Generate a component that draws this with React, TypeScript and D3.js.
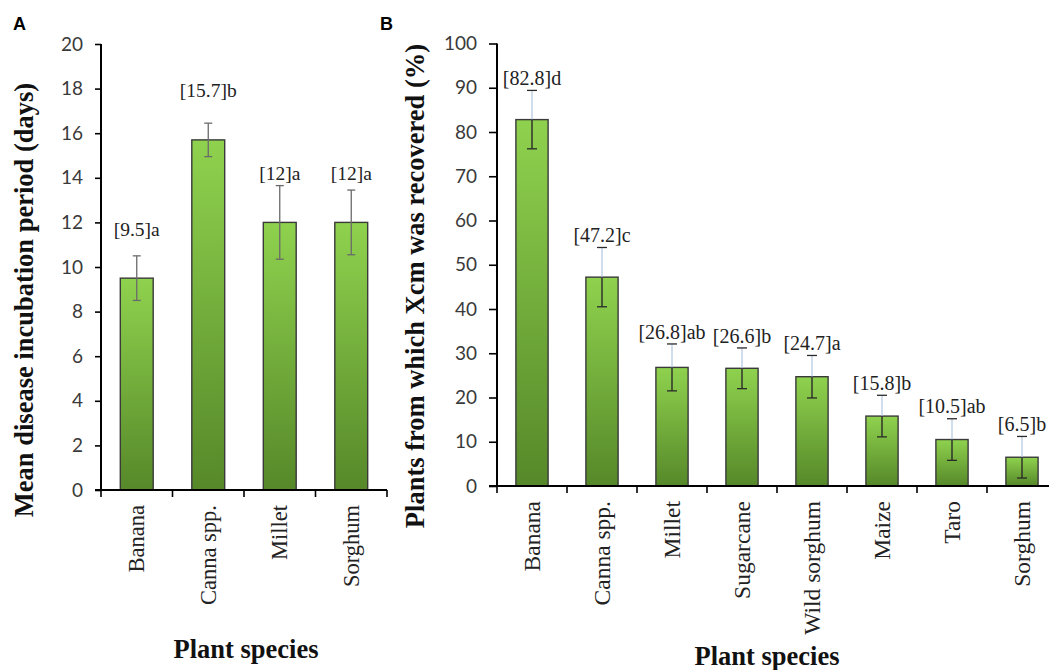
import React, { useEffect, useRef } from 'react'
import * as d3 from 'd3'

// panel A: incubation period
const speciesA = ['Banana', 'Canna spp.', 'Millet', 'Sorghum']
const incubationDays = [9.5, 15.7, 12, 12]
const incubationErr = [1.0, 0.75, 1.65, 1.45]
const lettersA = ['a', 'b', 'a', 'a']
const ticksA = [0, 2, 4, 6, 8, 10, 12, 14, 16, 18, 20]

// panel B: Xcm recovery
const speciesB = ['Banana', 'Canna spp.', 'Millet', 'Sugarcane', 'Wild sorghum', 'Maize', 'Taro', 'Sorghum']
const recoveredPct = [82.8, 47.2, 26.8, 26.6, 24.7, 15.8, 10.5, 6.5]
const recoveredErr = [6.6, 6.7, 5.3, 4.6, 4.8, 4.7, 4.7, 4.7]
const lettersB = ['d', 'c', 'ab', 'b', 'a', 'b', 'ab', 'b']
const ticksB = [0, 10, 20, 30, 40, 50, 60, 70, 80, 90, 100]

const W = 1049
const H = 670
const serif = '"Liberation Serif", "Times New Roman", serif'
const sans = 'Lato, "Open Sans", sans-serif'

type Panel = {
  id: string
  cats: string[]
  values: number[]
  errs: number[]
  letters: string[]
  ticks: number[]
  x0: number
  x1: number
  yTop: number
  yBot: number
  yTitle: string
  yTitleX: number
  yTitleY: number
  xTitleX: number
  xTitleY: number
  catSize: number
  labelSize: number
  labelAt: (v: number, e: number) => number
  splitErr: boolean
  tickLen: number
}

function drawPanel(svg: d3.Selection<SVGSVGElement, unknown, null, undefined>, p: Panel) {
  const max = p.ticks[p.ticks.length - 1]
  const x = d3.scaleBand<string>().domain(p.cats).range([p.x0, p.x1]).padding(0)
  const y = d3.scaleLinear().domain([0, max]).range([p.yBot, p.yTop])
  const bw = x.bandwidth() * 0.46

  const grad = svg.select('defs').append('linearGradient')
    .attr('id', 'grad' + p.id)
    .attr('x1', 0).attr('y1', 0).attr('x2', 0).attr('y2', 1)
  grad.append('stop').attr('offset', 0).attr('stop-color', '#8fd24e')
  grad.append('stop').attr('offset', 1).attr('stop-color', '#568829')

  const g = svg.append('g')
  const rows = p.cats.map((c, i) => ({ c, v: p.values[i], e: p.errs[i], l: p.letters[i] }))

  // bars
  g.selectAll('rect.bar').data(rows).enter().append('rect')
    .attr('class', 'bar')
    .attr('x', d => x(d.c)! + x.bandwidth() / 2 - bw / 2)
    .attr('y', d => y(d.v))
    .attr('width', bw)
    .attr('height', d => y(0) - y(d.v))
    .attr('fill', `url(#grad${p.id})`)
    .attr('stroke', '#3a3a3a')
    .attr('stroke-width', 1.4)

  // error bars
  const eb = g.selectAll('g.err').data(rows).enter().append('g')
    .attr('transform', d => `translate(${x(d.c)! + x.bandwidth() / 2},0)`)
  const capW = p.splitErr ? 5 : 4
  if (p.splitErr) {
    eb.append('line')
      .attr('y1', d => y(d.v)).attr('y2', d => y(d.v + d.e))
      .attr('stroke', '#a9c2dc').attr('stroke-width', 1.1)
    eb.append('line')
      .attr('y1', d => y(d.v - d.e)).attr('y2', d => y(d.v))
      .attr('stroke', '#2a2a2a').attr('stroke-width', 1.4)
  } else {
    eb.append('line')
      .attr('y1', d => y(d.v - d.e)).attr('y2', d => y(d.v + d.e))
      .attr('stroke', '#6a6a6a').attr('stroke-width', 1.3)
  }
  const capColor = p.splitErr ? '#2a2a2a' : '#6a6a6a'
  eb.append('line')
    .attr('x1', -capW).attr('x2', capW)
    .attr('y1', d => y(d.v + d.e)).attr('y2', d => y(d.v + d.e))
    .attr('stroke', capColor).attr('stroke-width', 1.3)
  eb.append('line')
    .attr('x1', -capW).attr('x2', capW)
    .attr('y1', d => y(d.v - d.e)).attr('y2', d => y(d.v - d.e))
    .attr('stroke', capColor).attr('stroke-width', 1.3)

  // mean + letter labels
  g.selectAll('text.lab').data(rows).enter().append('text')
    .attr('class', 'lab')
    .attr('x', d => x(d.c)! + x.bandwidth() / 2)
    .attr('y', d => y(p.labelAt(d.v, d.e)))
    .attr('text-anchor', 'middle')
    .attr('dominant-baseline', 'central')
    .attr('font-family', serif)
    .attr('font-size', p.labelSize)
    .attr('fill', '#222')
    .text(d => `[${d.v}]${d.l}`)

  // y axis
  const ya = g.append('g').attr('transform', `translate(${p.x0},0)`)
    .call(d3.axisLeft(y).tickValues(p.ticks).tickSize(p.tickLen).tickPadding(12).tickFormat(d3.format('d')))
  ya.select('.domain').attr('d', `M0,${y(max)}V${y(0)}`).attr('stroke', '#000').attr('stroke-width', 2)
  ya.selectAll('.tick line').attr('stroke', '#000').attr('stroke-width', 1.6)
  ya.selectAll('.tick text').attr('font-family', sans).attr('font-size', 19).attr('fill', '#3a3a3a')

  // x axis
  const xa = g.append('g').attr('transform', `translate(0,${y(0)})`)
  xa.append('line').attr('x1', p.x0 - p.tickLen).attr('x2', p.x1).attr('stroke', '#000').attr('stroke-width', 2)
  const bounds = p.cats.map(c => x(c)!).concat([p.x1])
  xa.selectAll('line.tk').data(bounds).enter().append('line')
    .attr('class', 'tk')
    .attr('x1', d => d).attr('x2', d => d)
    .attr('y1', 0).attr('y2', 7)
    .attr('stroke', '#000').attr('stroke-width', 1.6)
  xa.selectAll('text.cat').data(p.cats).enter().append('text')
    .attr('class', 'cat')
    .attr('transform', d => `translate(${x(d)! + x.bandwidth() / 2},15) rotate(-90)`)
    .attr('text-anchor', 'end')
    .attr('dominant-baseline', 'central')
    .attr('font-family', serif)
    .attr('font-size', p.catSize)
    .attr('fill', '#222')
    .text(d => d)

  // titles
  g.append('text')
    .attr('transform', `translate(${p.yTitleX},${p.yTitleY}) rotate(-90)`)
    .attr('text-anchor', 'middle')
    .attr('dominant-baseline', 'central')
    .attr('font-family', serif)
    .attr('font-weight', 'bold')
    .attr('font-size', 26.5)
    .attr('fill', '#111')
    .text(p.yTitle)
  g.append('text')
    .attr('x', p.xTitleX)
    .attr('y', p.xTitleY)
    .attr('text-anchor', 'middle')
    .attr('font-family', serif)
    .attr('font-weight', 'bold')
    .attr('font-size', 26.5)
    .attr('fill', '#111')
    .text('Plant species')
}

export default function App() {
  const ref = useRef<SVGSVGElement>(null)

  useEffect(() => {
    const svg = d3.select(ref.current!)
    svg.selectAll('*').remove()
    svg.append('defs')

    drawPanel(svg, {
      id: 'A', cats: speciesA, values: incubationDays, errs: incubationErr, letters: lettersA, ticks: ticksA,
      x0: 101, x1: 387, yTop: 44, yBot: 490,
      yTitle: 'Mean disease incubation period (days)', yTitleX: 24, yTitleY: 300,
      xTitleX: 246, xTitleY: 658, catSize: 22.5, labelSize: 19.5,
      labelAt: v => v + 2.2, splitErr: false, tickLen: 6
    })
    drawPanel(svg, {
      id: 'B', cats: speciesB, values: recoveredPct, errs: recoveredErr, letters: lettersB, ticks: ticksB,
      x0: 497, x1: 1057, yTop: 43.5, yBot: 486,
      yTitle: 'Plants from which Xcm was recovered (%)', yTitleX: 415, yTitleY: 286,
      xTitleX: 767, xTitleY: 665, catSize: 23.5, labelSize: 20,
      labelAt: (v, e) => v + e + 2.8, splitErr: true, tickLen: 8
    })

    // panel letters
    svg.append('text').attr('x', 13).attr('y', 30)
      .attr('font-family', '"Liberation Sans", Arial, sans-serif').attr('font-weight', 'bold')
      .attr('font-size', 18).text('A')
    svg.append('text').attr('x', 380).attr('y', 30)
      .attr('font-family', '"Liberation Sans", Arial, sans-serif').attr('font-weight', 'bold')
      .attr('font-size', 18).text('B')
  }, [])

  return (
    <svg
      ref={ref}
      width={W}
      height={H}
      style={{ position: 'absolute', left: 0, top: 0, background: '#fff' }}
    />
  )
}
